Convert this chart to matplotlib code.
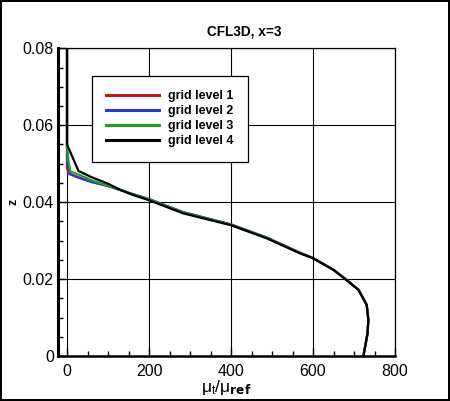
import matplotlib
matplotlib.use("Agg")
import matplotlib.pyplot as plt
from matplotlib.ticker import MultipleLocator

plt.rcParams['font.family'] = ['Liberation Sans', 'DejaVu Sans']

# data (mu_t/mu_ref, z) per grid level
mu1 = [0, 0, 3, 30, 60, 100, 160, 200, 283, 400, 487, 568, 600, 650, 682, 711, 731, 735, 733, 723]
z1 = [0.08, 0.0490, 0.0475, 0.0464, 0.0453, 0.0442, 0.0421, 0.0408, 0.0374, 0.0342, 0.0308, 0.0269, 0.0255, 0.0224, 0.0198, 0.0172, 0.0133, 0.0094, 0.0059, 0.0]
mu2 = [0, 0, 3, 8, 30, 60, 100, 160, 200, 283, 400, 487, 568, 600, 650, 682, 711, 731, 735, 733, 723]
z2 = [0.08, 0.0515, 0.0490, 0.0472, 0.0463, 0.0452, 0.0442, 0.0421, 0.0408, 0.0374, 0.0342, 0.0308, 0.0268, 0.0255, 0.0224, 0.0198, 0.0172, 0.0133, 0.0094, 0.0059, 0.0]
mu3 = [0, 0, 3, 8, 30, 60, 100, 160, 200, 283, 400, 487, 568, 600, 650, 682, 711, 731, 735, 733, 723]
z3 = [0.08, 0.0545, 0.0510, 0.0480, 0.0471, 0.0457, 0.0443, 0.0420, 0.0407, 0.0373, 0.0341, 0.0307, 0.0268, 0.0254, 0.0224, 0.0197, 0.0172, 0.0133, 0.0094, 0.0059, 0.0]
mu4 = [0, 0, 28, 60, 100, 130, 160, 200, 283, 400, 487, 568, 600, 650, 682, 711, 731, 735, 733, 723]
z4 = [0.08, 0.0550, 0.0481, 0.0465, 0.0448, 0.0432, 0.0419, 0.0405, 0.0371, 0.0340, 0.0306, 0.0267, 0.0254, 0.0224, 0.0197, 0.0172, 0.0133, 0.0094, 0.0059, 0.0]

labels = ['grid level 1', 'grid level 2', 'grid level 3', 'grid level 4']
colors = ['#c8141e', '#2838d0', '#20a020', '#000000']

fig = plt.figure(figsize=(4.5, 4.01), dpi=100)
fig.patch.set_facecolor('white')
fig.patch.set_edgecolor('black')
fig.patch.set_linewidth(1.5)
ax = fig.add_axes([58/450, 45/401, 337/450, 307.7/401])

for mu, z, lab, c in zip([mu1, mu2, mu3, mu4], [z1, z2, z3, z4], labels, colors):
    ax.plot(mu, z, color=c, lw=1.6, label=lab, solid_joinstyle='miter')

ax.set_xlim(-22, 800)
ax.set_ylim(0, 0.08)
ax.xaxis.set_major_locator(MultipleLocator(200))
ax.xaxis.set_minor_locator(MultipleLocator(50))
ax.yaxis.set_major_locator(MultipleLocator(0.02))
ax.yaxis.set_minor_locator(MultipleLocator(0.005))
ax.yaxis.set_major_formatter(plt.FuncFormatter(lambda v, p: '0' if v == 0 else f'{v:.2f}'))
ax.grid(True, which='major', color='black', lw=0.8)
ax.set_axisbelow(True)
ax.tick_params(which='both', direction='in', top=False, right=False, labelsize=11.5, colors='black')
ax.tick_params(which='major', length=6, width=1)
ax.tick_params(which='minor', length=3.5, width=1)
ax.tick_params(axis='x', pad=6)
ax.tick_params(axis='y', pad=3)

ax.spines['left'].set_linewidth(2.2)
ax.spines['bottom'].set_linewidth(1.8)
ax.spines['top'].set_linewidth(0.9)
ax.spines['right'].set_linewidth(0.9)

ax.set_xlabel(r'$\mathregular{\mu_t/\mu_{\mathbf{ref}}}$', fontsize=12.5, labelpad=-1)
ax.set_ylabel('z', fontsize=9, fontweight='bold', labelpad=2)

fig.text(244/450, 1 - 31/401, 'CFL3D, x=3', ha='center', va='center', fontsize=9.8, fontweight='bold')

leg = ax.legend(loc='upper left', bbox_to_anchor=(92/450, 1 - 76/401), bbox_transform=fig.transFigure,
                prop={'weight': 'bold', 'size': 9}, handlelength=4.2, handletextpad=0.75,
                labelspacing=0.24, borderpad=1.15, fancybox=False, framealpha=1, borderaxespad=0)
leg.get_frame().set_edgecolor('black')
leg.get_frame().set_linewidth(0.9)
for l in leg.get_lines():
    l.set_linewidth(2.2)

fig.savefig('out.png', dpi=100)
